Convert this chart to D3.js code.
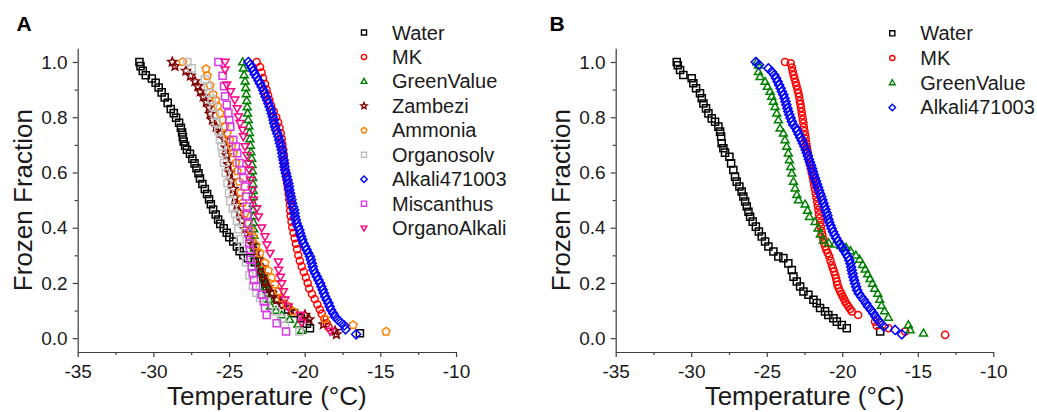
<!DOCTYPE html>
<html><head><meta charset="utf-8">
<script src="https://cdn.jsdelivr.net/npm/d3@7"></script>
<style>
html,body{margin:0;padding:0;background:#fff;}
svg{display:block;font-family:Arial,"Liberation Sans",sans-serif;}
</style></head><body>
<svg id="chart" width="1037" height="412"></svg>
<script>
// ---- Freezing curves: [temperature °C, frozen fraction] ----
const waterA = [[-30.92,1.000],[-30.85,0.985],[-30.70,0.968],[-30.50,0.952],[-30.10,0.940],[-29.85,0.925],[-29.65,0.908],[-29.45,0.890],[-29.25,0.872],[-29.05,0.852],[-28.85,0.830],[-28.65,0.815],[-28.50,0.798],[-28.30,0.780],[-28.18,0.762],[-28.10,0.745],[-28.05,0.728],[-28.00,0.712],[-27.90,0.697],[-27.78,0.682],[-27.58,0.668],[-27.42,0.650],[-27.28,0.633],[-27.15,0.615],[-27.02,0.597],[-26.92,0.578],[-26.76,0.558],[-26.60,0.540],[-26.45,0.522],[-26.32,0.503],[-26.20,0.485],[-26.05,0.466],[-25.88,0.448],[-25.72,0.430],[-25.58,0.414],[-25.35,0.398],[-25.15,0.382],[-24.98,0.366],[-24.72,0.350],[-24.48,0.332],[-24.30,0.315],[-24.05,0.300],[-23.75,0.290],[-23.30,0.275],[-23.00,0.258],[-22.85,0.238],[-22.72,0.218],[-22.60,0.198],[-22.50,0.178],[-22.15,0.160],[-21.80,0.140],[-21.45,0.122],[-21.10,0.104],[-20.70,0.090],[-20.25,0.072],[-19.85,0.052],[-19.65,0.036],[-16.35,0.018]];
const mkA = [[-23.17,1.000],[-22.95,0.982],[-22.85,0.962],[-22.75,0.942],[-22.62,0.920],[-22.52,0.900],[-22.42,0.880],[-22.33,0.862],[-22.22,0.842],[-22.05,0.822],[-21.88,0.800],[-21.76,0.782],[-21.66,0.762],[-21.58,0.742],[-21.52,0.722],[-21.47,0.702],[-21.42,0.682],[-21.38,0.662],[-21.34,0.642],[-21.30,0.622],[-21.25,0.602],[-21.21,0.582],[-21.16,0.562],[-21.11,0.542],[-21.06,0.522],[-21.02,0.502],[-20.98,0.482],[-20.96,0.462],[-20.92,0.442],[-20.87,0.422],[-20.82,0.402],[-20.74,0.382],[-20.66,0.362],[-20.58,0.342],[-20.50,0.322],[-20.42,0.300],[-20.32,0.280],[-20.20,0.260],[-20.06,0.240],[-19.92,0.220],[-19.80,0.200],[-19.70,0.180],[-19.52,0.160],[-19.34,0.142],[-19.16,0.122],[-19.00,0.104],[-18.87,0.088],[-18.70,0.070],[-18.55,0.054],[-18.42,0.040]];
const greenValueA = [[-24.10,1.000],[-24.05,0.977],[-24.00,0.953],[-23.94,0.930],[-23.90,0.907],[-23.86,0.884],[-23.83,0.860],[-23.80,0.837],[-23.77,0.814],[-23.73,0.791],[-23.69,0.767],[-23.65,0.744],[-23.62,0.721],[-23.59,0.698],[-23.55,0.674],[-23.50,0.651],[-23.47,0.628],[-23.45,0.605],[-23.43,0.581],[-23.42,0.558],[-23.41,0.535],[-23.40,0.512],[-23.40,0.488],[-23.39,0.465],[-23.38,0.442],[-23.38,0.419],[-23.37,0.395],[-23.36,0.372],[-23.34,0.349],[-23.32,0.326],[-23.30,0.302],[-23.22,0.279],[-23.05,0.256],[-22.88,0.233],[-22.75,0.209],[-22.60,0.186],[-22.45,0.163],[-22.35,0.140],[-22.25,0.116],[-21.90,0.100],[-21.52,0.084],[-21.00,0.068],[-20.45,0.050],[-20.20,0.028]];
const zambeziA = [[-28.75,1.000],[-28.57,0.985],[-27.85,0.968],[-27.55,0.950],[-27.25,0.930],[-27.05,0.912],[-26.90,0.893],[-26.70,0.875],[-26.50,0.855],[-26.32,0.835],[-26.25,0.812],[-26.10,0.790],[-25.85,0.765],[-25.55,0.742],[-25.30,0.720],[-25.20,0.690],[-25.15,0.662],[-25.05,0.630],[-24.95,0.600],[-24.85,0.570],[-24.72,0.540],[-24.60,0.510],[-24.48,0.482],[-24.32,0.455],[-24.15,0.425],[-23.95,0.395],[-23.70,0.365],[-23.45,0.340],[-23.20,0.313],[-23.05,0.285],[-22.88,0.258],[-22.75,0.230],[-22.60,0.205],[-22.40,0.185],[-22.18,0.163],[-21.85,0.140],[-21.50,0.120],[-20.90,0.100],[-19.98,0.084],[-19.70,0.068],[-18.76,0.050],[-17.99,0.026],[-17.90,0.014]];
const ammoniaA = [[-28.06,1.000],[-26.52,0.975],[-26.43,0.950],[-26.25,0.915],[-26.05,0.883],[-25.86,0.862],[-25.75,0.840],[-25.60,0.815],[-25.43,0.790],[-25.27,0.766],[-25.12,0.742],[-24.95,0.718],[-24.83,0.694],[-24.72,0.670],[-24.55,0.635],[-24.46,0.605],[-24.32,0.567],[-24.24,0.527],[-24.10,0.490],[-23.95,0.452],[-23.73,0.416],[-23.57,0.392],[-23.40,0.368],[-23.21,0.336],[-22.95,0.308],[-22.62,0.272],[-22.40,0.245],[-22.18,0.220],[-21.96,0.195],[-21.74,0.170],[-21.52,0.145],[-21.19,0.120],[-20.75,0.097],[-18.65,0.070],[-16.80,0.048],[-14.62,0.024]];
const organosolvA = [[-27.75,1.000],[-27.47,0.977],[-26.60,0.937],[-26.40,0.912],[-26.27,0.888],[-26.15,0.863],[-26.05,0.838],[-25.93,0.810],[-25.82,0.780],[-25.71,0.750],[-25.60,0.720],[-25.50,0.695],[-25.42,0.670],[-25.34,0.635],[-25.22,0.598],[-25.10,0.562],[-25.00,0.526],[-24.92,0.496],[-24.75,0.470],[-24.60,0.450],[-24.48,0.425],[-24.38,0.395],[-24.28,0.358],[-24.10,0.320],[-23.88,0.275],[-23.65,0.228],[-23.42,0.190],[-23.20,0.165],[-22.95,0.146],[-22.52,0.133],[-21.90,0.097],[-21.50,0.070],[-21.30,0.048],[-20.35,0.024]];
const alkaliA = [[-23.72,1.000],[-23.60,0.990],[-23.50,0.980],[-23.40,0.968],[-23.30,0.956],[-23.17,0.945],[-23.05,0.933],[-22.95,0.922],[-22.84,0.910],[-22.73,0.898],[-22.66,0.886],[-22.58,0.874],[-22.48,0.862],[-22.40,0.850],[-22.32,0.838],[-22.24,0.826],[-22.17,0.814],[-22.11,0.802],[-22.06,0.790],[-22.02,0.778],[-21.95,0.766],[-21.89,0.754],[-21.82,0.742],[-21.74,0.730],[-21.68,0.718],[-21.63,0.706],[-21.57,0.694],[-21.52,0.682],[-21.48,0.670],[-21.45,0.657],[-21.40,0.645],[-21.36,0.633],[-21.33,0.621],[-21.30,0.609],[-21.24,0.597],[-21.19,0.585],[-21.13,0.573],[-21.08,0.561],[-21.04,0.549],[-21.01,0.537],[-20.96,0.525],[-20.92,0.513],[-20.87,0.501],[-20.83,0.489],[-20.76,0.476],[-20.70,0.464],[-20.67,0.452],[-20.64,0.440],[-20.58,0.428],[-20.53,0.416],[-20.44,0.404],[-20.35,0.392],[-20.30,0.380],[-20.24,0.368],[-20.16,0.356],[-20.08,0.344],[-19.97,0.332],[-19.87,0.320],[-19.76,0.308],[-19.65,0.296],[-19.59,0.284],[-19.53,0.271],[-19.47,0.259],[-19.42,0.247],[-19.31,0.235],[-19.20,0.223],[-19.09,0.211],[-18.98,0.199],[-18.90,0.187],[-18.81,0.175],[-18.73,0.163],[-18.65,0.151],[-18.54,0.139],[-18.43,0.127],[-18.35,0.115],[-18.26,0.103],[-18.12,0.090],[-17.99,0.078],[-17.80,0.066],[-17.60,0.056],[-17.38,0.046],[-17.30,0.032],[-16.60,0.014]];
const miscanthusA = [[-25.70,1.000],[-25.42,0.950],[-25.33,0.912],[-25.26,0.876],[-25.15,0.845],[-25.04,0.815],[-24.98,0.790],[-24.92,0.766],[-24.72,0.718],[-24.55,0.694],[-24.45,0.670],[-24.31,0.634],[-24.16,0.609],[-24.05,0.580],[-23.95,0.549],[-23.88,0.513],[-23.83,0.477],[-23.79,0.446],[-23.73,0.416],[-23.72,0.380],[-23.66,0.344],[-23.61,0.320],[-23.57,0.284],[-23.50,0.259],[-23.43,0.235],[-23.35,0.211],[-23.21,0.187],[-22.84,0.157],[-22.70,0.133],[-22.62,0.109],[-22.51,0.084],[-21.85,0.054],[-21.23,0.024]];
const organoAlkaliA = [[-25.26,1.000],[-25.26,0.972],[-25.15,0.918],[-24.90,0.893],[-24.62,0.863],[-24.46,0.832],[-24.38,0.802],[-24.27,0.778],[-24.10,0.754],[-24.05,0.730],[-23.94,0.694],[-23.82,0.662],[-23.72,0.633],[-23.65,0.609],[-23.57,0.573],[-23.46,0.537],[-23.39,0.500],[-23.17,0.470],[-23.06,0.440],[-22.84,0.400],[-22.62,0.368],[-22.50,0.338],[-22.29,0.308],[-21.74,0.277],[-21.72,0.247],[-21.60,0.222],[-21.52,0.198],[-21.41,0.169],[-21.30,0.139],[-21.08,0.114],[-20.30,0.084],[-20.20,0.056],[-18.32,0.026]];

const waterB = [[-30.96,1.000],[-30.89,0.988],[-30.74,0.971],[-30.52,0.953],[-29.97,0.941],[-29.86,0.923],[-29.68,0.905],[-29.42,0.887],[-29.30,0.869],[-29.19,0.850],[-29.02,0.832],[-28.86,0.814],[-28.64,0.796],[-28.42,0.784],[-28.20,0.766],[-28.09,0.748],[-28.02,0.730],[-27.98,0.706],[-27.87,0.688],[-27.76,0.672],[-27.47,0.657],[-27.36,0.633],[-27.21,0.609],[-27.10,0.585],[-26.99,0.567],[-26.81,0.549],[-26.66,0.531],[-26.55,0.513],[-26.43,0.495],[-26.32,0.477],[-26.21,0.458],[-26.10,0.440],[-25.93,0.422],[-25.72,0.404],[-25.52,0.386],[-25.33,0.368],[-25.11,0.350],[-24.89,0.332],[-24.56,0.314],[-24.23,0.296],[-23.90,0.290],[-23.57,0.271],[-23.34,0.247],[-23.23,0.223],[-23.01,0.205],[-22.79,0.187],[-22.57,0.169],[-22.24,0.157],[-21.91,0.139],[-21.69,0.127],[-21.47,0.109],[-21.14,0.097],[-20.92,0.084],[-20.59,0.072],[-20.36,0.060],[-20.03,0.048],[-19.70,0.036],[-17.49,0.024]];
const mkB = [[-23.79,1.000],[-23.41,0.995],[-23.33,0.980],[-23.28,0.966],[-23.22,0.953],[-23.16,0.940],[-23.09,0.927],[-23.03,0.914],[-22.96,0.900],[-22.90,0.887],[-22.85,0.874],[-22.81,0.860],[-22.77,0.847],[-22.73,0.834],[-22.69,0.820],[-22.65,0.806],[-22.61,0.792],[-22.57,0.778],[-22.54,0.764],[-22.50,0.750],[-22.46,0.736],[-22.42,0.722],[-22.38,0.706],[-22.34,0.692],[-22.30,0.678],[-22.25,0.662],[-22.20,0.646],[-22.14,0.630],[-22.08,0.615],[-22.02,0.600],[-21.96,0.585],[-21.91,0.570],[-21.86,0.555],[-21.81,0.540],[-21.76,0.525],[-21.71,0.510],[-21.66,0.495],[-21.62,0.480],[-21.58,0.464],[-21.54,0.449],[-21.50,0.434],[-21.46,0.419],[-21.42,0.404],[-21.37,0.389],[-21.32,0.374],[-21.26,0.359],[-21.20,0.344],[-21.13,0.332],[-21.06,0.320],[-20.96,0.308],[-20.86,0.296],[-20.78,0.280],[-20.69,0.265],[-20.62,0.253],[-20.54,0.241],[-20.47,0.229],[-20.41,0.217],[-20.36,0.205],[-20.32,0.193],[-20.23,0.181],[-20.14,0.169],[-20.05,0.160],[-19.97,0.151],[-19.88,0.142],[-19.81,0.133],[-19.70,0.124],[-19.59,0.115],[-19.48,0.106],[-19.37,0.097],[-18.95,0.084],[-17.83,0.060],[-17.72,0.045],[-16.94,0.036],[-15.84,0.024],[-13.19,0.012]];
const greenValueB = [[-25.66,1.000],[-25.55,0.988],[-25.55,0.965],[-25.44,0.947],[-25.11,0.929],[-24.96,0.911],[-24.78,0.893],[-24.67,0.875],[-24.56,0.857],[-24.45,0.838],[-24.34,0.814],[-24.23,0.790],[-24.12,0.760],[-23.90,0.742],[-23.79,0.718],[-23.68,0.694],[-23.57,0.670],[-23.50,0.645],[-23.41,0.621],[-23.34,0.597],[-23.23,0.567],[-23.12,0.543],[-23.01,0.519],[-22.90,0.500],[-22.46,0.485],[-22.30,0.462],[-22.17,0.440],[-21.80,0.422],[-21.60,0.398],[-21.45,0.376],[-21.25,0.355],[-20.90,0.345],[-20.50,0.340],[-20.10,0.335],[-19.75,0.328],[-19.45,0.316],[-19.10,0.300],[-18.85,0.285],[-18.65,0.266],[-18.48,0.250],[-18.32,0.232],[-18.16,0.215],[-18.00,0.198],[-17.85,0.180],[-17.65,0.162],[-17.52,0.140],[-17.40,0.118],[-17.20,0.098],[-16.95,0.075],[-15.62,0.048],[-15.51,0.030],[-14.62,0.018]];
const alkaliB = [[-25.73,1.000],[-25.51,0.990],[-24.89,0.977],[-24.67,0.965],[-24.50,0.953],[-24.38,0.941],[-24.28,0.929],[-24.18,0.917],[-24.08,0.905],[-24.00,0.893],[-23.90,0.881],[-23.82,0.869],[-23.76,0.857],[-23.70,0.845],[-23.63,0.833],[-23.57,0.821],[-23.50,0.809],[-23.42,0.797],[-23.34,0.785],[-23.25,0.773],[-23.08,0.761],[-22.98,0.750],[-22.88,0.738],[-22.78,0.727],[-22.68,0.716],[-22.59,0.705],[-22.50,0.694],[-22.42,0.682],[-22.35,0.671],[-22.28,0.660],[-22.21,0.648],[-22.14,0.637],[-22.07,0.626],[-22.00,0.614],[-21.94,0.603],[-21.88,0.592],[-21.81,0.580],[-21.74,0.569],[-21.67,0.557],[-21.60,0.546],[-21.53,0.535],[-21.46,0.523],[-21.39,0.512],[-21.32,0.500],[-21.25,0.489],[-21.18,0.477],[-21.11,0.466],[-21.04,0.454],[-20.98,0.443],[-20.92,0.431],[-20.86,0.420],[-20.78,0.408],[-20.70,0.397],[-20.61,0.385],[-20.51,0.374],[-20.40,0.362],[-20.28,0.351],[-20.15,0.340],[-20.01,0.328],[-19.87,0.317],[-19.74,0.305],[-19.62,0.294],[-19.53,0.282],[-19.46,0.270],[-19.41,0.258],[-19.37,0.246],[-19.32,0.234],[-19.27,0.222],[-19.21,0.210],[-19.15,0.198],[-19.08,0.186],[-19.01,0.174],[-18.90,0.162],[-18.75,0.150],[-18.58,0.138],[-18.42,0.126],[-18.28,0.114],[-18.10,0.102],[-17.95,0.090],[-17.80,0.078],[-17.64,0.066],[-17.47,0.054],[-17.25,0.042],[-16.50,0.030],[-16.06,0.014]];

// ---- Series metadata ----
const namesA = ["Water","MK","GreenValue","Zambezi","Ammonia","Organosolv","Alkali471003","Miscanthus","OrganoAlkali"];
const valuesA = [waterA, mkA, greenValueA, zambeziA, ammoniaA, organosolvA, alkaliA, miscanthusA, organoAlkaliA];
const colorsA = ["#000000","#ff0000","#008000","#800000","#ff8000","#c0c0c0","#0000ff","#d63ae6","#ff0080"];
const shapesA = ["square","circle","triangleUp","star","pentagon","square","diamond","square","triangleDown"];

const namesB = ["Water","MK","GreenValue","Alkali471003"];
const valuesB = [waterB, mkB, greenValueB, alkaliB];
const colorsB = ["#000000","#ff0000","#008000","#0000ff"];
const shapesB = ["square","circle","triangleUp","diamond"];

// ---- Axes ticks ----
const xTicks = [-35,-30,-25,-20,-15,-10];
const xTickLabels = ["-35","-30","-25","-20","-15","-10"];
const xMinorTicks = [-32.5,-27.5,-22.5,-17.5,-12.5];
const yTicks = [0,0.2,0.4,0.6,0.8,1.0];
const yTickLabels = ["0.0","0.2","0.4","0.6","0.8","1.0"];
const yMinorTicks = [0.1,0.3,0.5,0.7,0.9];
const xDomain = [-35,-10];
const yDomain = [-0.05,1.05];

// ---- Marker shapes (hollow, Origin-style) ----
const symbolTypes = {
  square: {draw(c, size){ const s = Math.sqrt(size); c.rect(-s/2, -s/2, s, s); }},
  circle: {draw(c, size){ const r = Math.sqrt(size)/2; c.moveTo(r, 0); c.arc(0, 0, r, 0, 2*Math.PI); }},
  triangleUp: {draw(c, size){ const w = Math.sqrt(size)*1.12, h = w*0.866;
    c.moveTo(0, -h*0.6); c.lineTo(w/2, h*0.4); c.lineTo(-w/2, h*0.4); c.closePath(); }},
  triangleDown: {draw(c, size){ const w = Math.sqrt(size)*1.12, h = w*0.866;
    c.moveTo(0, h*0.6); c.lineTo(w/2, -h*0.4); c.lineTo(-w/2, -h*0.4); c.closePath(); }},
  diamond: {draw(c, size){ const h = Math.sqrt(size)*0.64;
    c.moveTo(0, -h); c.lineTo(h, 0); c.lineTo(0, h); c.lineTo(-h, 0); c.closePath(); }},
  pentagon: {draw(c, size){ const r = Math.sqrt(size)*0.58;
    for (let i = 0; i < 5; i++) { const a = -Math.PI/2 + i*2*Math.PI/5;
      if (i === 0) c.moveTo(r*Math.cos(a), r*Math.sin(a)); else c.lineTo(r*Math.cos(a), r*Math.sin(a)); }
    c.closePath(); }},
  star: {draw(c, size){ const R = Math.sqrt(size)*0.66, r = R*0.45;
    for (let i = 0; i < 10; i++) { const a = -Math.PI/2 + i*Math.PI/5, rr = i % 2 ? r : R;
      if (i === 0) c.moveTo(rr*Math.cos(a), rr*Math.sin(a)); else c.lineTo(rr*Math.cos(a), rr*Math.sin(a)); }
    c.closePath(); }}
};

const svg = d3.select("#chart");
const textColor = "#1a1a1a";
const axisColor = "#3c3c3c";

function drawPanel(cfg) {
  const x = d3.scaleLinear().domain(xDomain).range([cfg.left, cfg.right]);
  const y = d3.scaleLinear().domain(yDomain).range([352, 48.2]);
  const g = svg.append("g");

  // minor ticks
  g.append("g").attr("transform", `translate(0,${y(yDomain[0])})`)
    .call(d3.axisBottom(x).tickValues(xMinorTicks).tickSize(3).tickFormat(""))
    .call(a => a.select(".domain").remove());
  g.append("g").attr("transform", `translate(${x(xDomain[0])},0)`)
    .call(d3.axisLeft(y).tickValues(yMinorTicks).tickSize(3).tickFormat(""))
    .call(a => a.select(".domain").remove());

  // major ticks + labels
  const xa = g.append("g").attr("transform", `translate(0,${y(yDomain[0])})`)
    .call(d3.axisBottom(x).tickValues(xTicks).tickSize(5).tickSizeOuter(0).tickPadding(7.5)
      .tickFormat((d, i) => xTickLabels[i]));
  const ya = g.append("g").attr("transform", `translate(${x(xDomain[0])},0)`)
    .call(d3.axisLeft(y).tickValues(yTicks).tickSize(5).tickSizeOuter(0).tickPadding(5)
      .tickFormat((d, i) => yTickLabels[i]));
  [xa, ya].forEach(a => {
    a.selectAll("text").attr("font-size", 19).attr("fill", textColor).attr("font-family", "Arial, 'Liberation Sans', sans-serif");
  });
  g.selectAll(".domain, .tick line").attr("stroke", axisColor).attr("stroke-width", 1.2);

  // axis titles
  g.append("text").attr("x", (cfg.left + cfg.right)/2).attr("y", 405)
    .attr("text-anchor", "middle").attr("font-size", 26).attr("fill", textColor)
    .text("Temperature (\u00B0C)");
  g.append("text")
    .attr("transform", `translate(${cfg.left - 46},${(y(yDomain[0]) + y(yDomain[1]))/2}) rotate(-90)`)
    .attr("text-anchor", "middle").attr("font-size", 26).attr("fill", textColor)
    .text("Frozen Fraction");

  // panel letter
  g.append("text").attr("x", cfg.letterX).attr("y", 31).attr("font-size", 21)
    .attr("font-weight", "bold").attr("fill", "#000").text(cfg.letter);

  // data markers
  const sym = d3.symbol();
  cfg.values.forEach((series, i) => {
    g.append("g").selectAll("path").data(series).join("path")
      .attr("transform", d => `translate(${x(d[0])},${y(d[1])})`)
      .attr("d", sym.type(symbolTypes[cfg.shapes[i]]).size(50)())
      .attr("fill", "none").attr("stroke", cfg.colors[i]).attr("stroke-width", 1.5);
  });

  // legend
  const lg = g.append("g");
  cfg.names.forEach((name, i) => {
    const yy = cfg.legendY + i*cfg.legendStep;
    lg.append("path").attr("transform", `translate(${cfg.legendX},${yy})`)
      .attr("d", sym.type(symbolTypes[cfg.shapes[i]]).size(26)())
      .attr("fill", "none").attr("stroke", cfg.colors[i]).attr("stroke-width", 1.4);
    lg.append("text").attr("x", cfg.legendX + 28).attr("y", yy).attr("dy", "0.35em")
      .attr("font-size", 20).attr("fill", textColor).text(name);
  });
}

drawPanel({left: 77.7, right: 456, letter: "A", letterX: 16.5,
  names: namesA, values: valuesA, colors: colorsA, shapes: shapesA,
  legendX: 364, legendY: 32.5, legendStep: 24.45});
drawPanel({left: 615.7, right: 993.3, letter: "B", letterX: 549.5,
  names: namesB, values: valuesB, colors: colorsB, shapes: shapesB,
  legendX: 892.3, legendY: 33.3, legendStep: 24.7});
</script>
</body></html>
